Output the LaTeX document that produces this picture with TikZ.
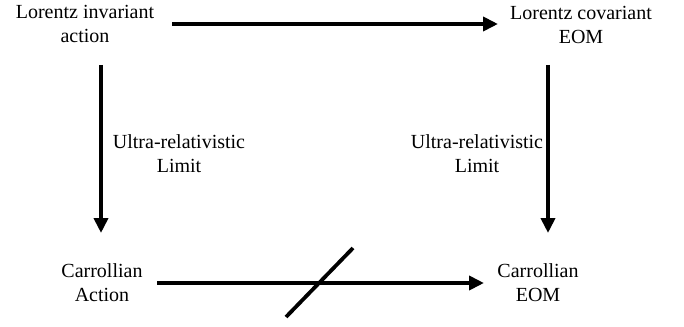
\documentclass[tikz,border=0pt]{standalone}
\usepackage{fontspec}
\setmainfont{Liberation Serif}
\usetikzlibrary{arrows.meta}
\begin{document}
\begin{tikzpicture}[x=1pt,y=-1pt,
  lbl/.style={align=center,font=\fontsize{20}{24}\selectfont,inner sep=0pt},
  arr/.style={line width=3.8pt,-{Triangle[length=15pt,width=14pt]}},
  slash/.style={line width=3.8pt}]
\useasboundingbox (0,0) rectangle (684,326);
\node[lbl] (lia) at (85,23.5) {Lorentz invariant\\action};
\node[lbl] (lce) at (581,24.5) {Lorentz covariant\\EOM};
\node[lbl] (ca) at (102,282.5) {Carrollian\\Action};
\node[lbl] (ce) at (538,282.5) {Carrollian\\EOM};
\coordinate (t1) at (172,24);
\coordinate (t2) at (498,24);
\coordinate (l1) at (101,65);
\coordinate (l2) at (101,233);
\coordinate (r1) at (548,65);
\coordinate (r2) at (548,233);
\coordinate (b1) at (157,283);
\coordinate (b2) at (484,283);
\coordinate (s1) at (286,317);
\coordinate (s2) at (353,248);
\draw[arr] (t1) -- (t2);
\draw[arr] (l1) -- (l2);
\draw[arr] (r1) -- (r2);
\draw[arr] (b1) -- (b2);
\draw[slash] (s1) -- (s2);
\node[lbl] (ul) at (179,154) {Ultra-relativistic\\Limit};
\node[lbl] (ur) at (477,154) {Ultra-relativistic\\Limit};
\end{tikzpicture}
\end{document}
